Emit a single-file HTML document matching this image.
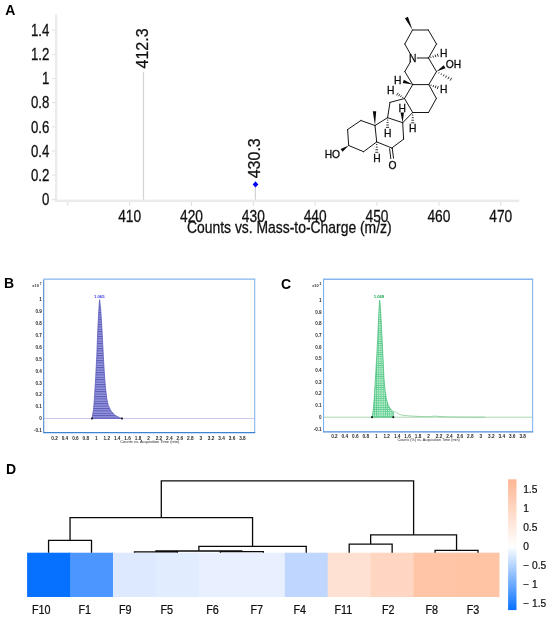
<!DOCTYPE html>
<html lang="en"><head><meta charset="utf-8"><title>Figure</title>
<style>html,body{margin:0;padding:0;background:#fff;}body{width:550px;height:620px;overflow:hidden;}svg{display:block;}</style>
</head><body>
<svg width="550" height="620" viewBox="0 0 550 620" font-family='"Liberation Sans", Arial, Helvetica, sans-serif'>
<rect x="0" y="0" width="550" height="620" fill="#ffffff"/>
<g id="panelA">
<text x="5.30" y="14.70" font-size="14" text-anchor="start" fill="#000" font-weight="bold">A</text>
<rect x="55.05" y="14.5" width="2.2" height="187.50" fill="#ebebeb"/>
<rect x="55.05" y="199.6" width="464.25" height="2.5" fill="#ebebeb"/>
<line x1="51.95" y1="199.40" x2="55.15" y2="199.40" stroke="#d8d8d8" stroke-width="0.8"/>
<text x="0" y="0" transform="translate(49.30 205.15) scale(0.8 1)" font-size="16.5" text-anchor="end" fill="#111" stroke="#111" stroke-width="0.3">0</text>
<line x1="51.95" y1="175.22" x2="55.15" y2="175.22" stroke="#d8d8d8" stroke-width="0.8"/>
<text x="0" y="0" transform="translate(49.30 180.97) scale(0.8 1)" font-size="16.5" text-anchor="end" fill="#111" stroke="#111" stroke-width="0.3">0.2</text>
<line x1="51.95" y1="151.04" x2="55.15" y2="151.04" stroke="#d8d8d8" stroke-width="0.8"/>
<text x="0" y="0" transform="translate(49.30 156.79) scale(0.8 1)" font-size="16.5" text-anchor="end" fill="#111" stroke="#111" stroke-width="0.3">0.4</text>
<line x1="51.95" y1="126.86" x2="55.15" y2="126.86" stroke="#d8d8d8" stroke-width="0.8"/>
<text x="0" y="0" transform="translate(49.30 132.61) scale(0.8 1)" font-size="16.5" text-anchor="end" fill="#111" stroke="#111" stroke-width="0.3">0.6</text>
<line x1="51.95" y1="102.68" x2="55.15" y2="102.68" stroke="#d8d8d8" stroke-width="0.8"/>
<text x="0" y="0" transform="translate(49.30 108.43) scale(0.8 1)" font-size="16.5" text-anchor="end" fill="#111" stroke="#111" stroke-width="0.3">0.8</text>
<line x1="51.95" y1="78.50" x2="55.15" y2="78.50" stroke="#d8d8d8" stroke-width="0.8"/>
<text x="0" y="0" transform="translate(49.30 84.25) scale(0.8 1)" font-size="16.5" text-anchor="end" fill="#111" stroke="#111" stroke-width="0.3">1</text>
<line x1="51.95" y1="54.32" x2="55.15" y2="54.32" stroke="#d8d8d8" stroke-width="0.8"/>
<text x="0" y="0" transform="translate(49.30 60.07) scale(0.8 1)" font-size="16.5" text-anchor="end" fill="#111" stroke="#111" stroke-width="0.3">1.2</text>
<line x1="51.95" y1="30.14" x2="55.15" y2="30.14" stroke="#d8d8d8" stroke-width="0.8"/>
<text x="0" y="0" transform="translate(49.30 35.89) scale(0.8 1)" font-size="16.5" text-anchor="end" fill="#111" stroke="#111" stroke-width="0.3">1.4</text>
<line x1="129.60" y1="202.00" x2="129.60" y2="205.50" stroke="#d0d0d0" stroke-width="0.8"/>
<text x="0" y="0" transform="translate(129.60 222.00) scale(0.79 1)" font-size="17.4" text-anchor="middle" fill="#111" stroke="#111" stroke-width="0.3">410</text>
<line x1="191.46" y1="202.00" x2="191.46" y2="205.50" stroke="#d0d0d0" stroke-width="0.8"/>
<text x="0" y="0" transform="translate(191.46 222.00) scale(0.79 1)" font-size="17.4" text-anchor="middle" fill="#111" stroke="#111" stroke-width="0.3">420</text>
<line x1="253.32" y1="202.00" x2="253.32" y2="205.50" stroke="#d0d0d0" stroke-width="0.8"/>
<text x="0" y="0" transform="translate(253.32 222.00) scale(0.79 1)" font-size="17.4" text-anchor="middle" fill="#111" stroke="#111" stroke-width="0.3">430</text>
<line x1="315.18" y1="202.00" x2="315.18" y2="205.50" stroke="#d0d0d0" stroke-width="0.8"/>
<text x="0" y="0" transform="translate(315.18 222.00) scale(0.79 1)" font-size="17.4" text-anchor="middle" fill="#111" stroke="#111" stroke-width="0.3">440</text>
<line x1="377.04" y1="202.00" x2="377.04" y2="205.50" stroke="#d0d0d0" stroke-width="0.8"/>
<text x="0" y="0" transform="translate(377.04 222.00) scale(0.79 1)" font-size="17.4" text-anchor="middle" fill="#111" stroke="#111" stroke-width="0.3">450</text>
<line x1="438.90" y1="202.00" x2="438.90" y2="205.50" stroke="#d0d0d0" stroke-width="0.8"/>
<text x="0" y="0" transform="translate(438.90 222.00) scale(0.79 1)" font-size="17.4" text-anchor="middle" fill="#111" stroke="#111" stroke-width="0.3">460</text>
<line x1="500.76" y1="202.00" x2="500.76" y2="205.50" stroke="#d0d0d0" stroke-width="0.8"/>
<text x="0" y="0" transform="translate(500.76 222.00) scale(0.79 1)" font-size="17.4" text-anchor="middle" fill="#111" stroke="#111" stroke-width="0.3">470</text>
<line x1="67.74" y1="202.00" x2="67.74" y2="205.50" stroke="#d0d0d0" stroke-width="0.8"/>
<text x="0" y="0" transform="translate(289.30 233.30) scale(0.838 1)" font-size="16.6" text-anchor="middle" fill="#111" stroke="#111" stroke-width="0.3">Counts vs. Mass-to-Charge (m/z)</text>
<line x1="143.50" y1="72.00" x2="143.50" y2="199.80" stroke="#d4d4d4" stroke-width="1.2"/>
<line x1="255.40" y1="186.00" x2="255.40" y2="199.80" stroke="#d4d4d4" stroke-width="1.2"/>
<text transform="translate(148.3 68.5) rotate(-90) scale(1 1.01)" font-size="16" fill="#111" stroke="#111" stroke-width="0.25">412.3</text>
<text transform="translate(259.5 178.3) rotate(-90) scale(1 1.01)" font-size="16" fill="#111" stroke="#111" stroke-width="0.25">430.3</text>
<path d="M255.5 181.3 L258.3 184.4 L255.5 187.5 L252.7 184.4 Z" fill="#0000ff"/>
</g>
<g id="molecule" stroke="#0a0a0a" stroke-width="0.95" stroke-linecap="round" fill="none">
<line x1="412.50" y1="30.00" x2="428.30" y2="30.00"/>
<line x1="428.30" y1="30.00" x2="436.50" y2="44.00"/>
<line x1="436.50" y1="44.00" x2="428.50" y2="58.00"/>
<line x1="404.80" y1="44.00" x2="412.50" y2="30.00"/>
<line x1="428.50" y1="58.00" x2="436.50" y2="71.60"/>
<line x1="436.50" y1="71.60" x2="428.80" y2="84.60"/>
<line x1="428.80" y1="84.60" x2="412.70" y2="84.60"/>
<line x1="412.70" y1="84.60" x2="404.80" y2="71.60"/>
<line x1="428.80" y1="84.60" x2="436.40" y2="98.40"/>
<line x1="436.40" y1="98.40" x2="428.50" y2="112.50"/>
<line x1="428.50" y1="112.50" x2="412.70" y2="112.50"/>
<line x1="412.70" y1="112.50" x2="404.50" y2="98.50"/>
<line x1="404.50" y1="98.50" x2="412.70" y2="84.60"/>
<line x1="404.50" y1="98.50" x2="390.00" y2="102.40"/>
<line x1="390.00" y1="102.40" x2="387.60" y2="117.70"/>
<line x1="387.60" y1="117.70" x2="402.70" y2="122.70"/>
<line x1="402.70" y1="122.70" x2="412.70" y2="112.50"/>
<line x1="402.70" y1="122.70" x2="403.60" y2="139.20"/>
<line x1="403.60" y1="139.20" x2="391.80" y2="148.00"/>
<line x1="391.80" y1="148.00" x2="376.70" y2="141.90"/>
<line x1="376.70" y1="141.90" x2="375.00" y2="125.50"/>
<line x1="375.00" y1="125.50" x2="387.60" y2="117.70"/>
<line x1="375.00" y1="125.50" x2="360.90" y2="120.50"/>
<line x1="360.90" y1="120.50" x2="347.60" y2="129.50"/>
<line x1="347.60" y1="129.50" x2="348.70" y2="145.50"/>
<line x1="348.70" y1="145.50" x2="363.60" y2="151.70"/>
<line x1="363.60" y1="151.70" x2="376.70" y2="141.90"/>
<line x1="428.50" y1="58.00" x2="417.20" y2="58.00"/>
<line x1="410.65" y1="54.51" x2="404.80" y2="44.00"/>
<line x1="410.61" y1="61.47" x2="404.80" y2="71.60"/>
<line x1="389.6" y1="148.8" x2="390.8" y2="158.6"/>
<line x1="392.3" y1="148.4" x2="393.5" y2="158.2"/>
</g>
<g id="stereo" fill="#0a0a0a" stroke="none">
<path d="M412.50 30.00 L407.93 16.66 L404.87 18.14 Z"/>
<path d="M436.50 71.60 L445.47 68.26 L443.73 65.34 Z"/>
<path d="M412.70 84.60 L403.85 79.79 L402.75 83.01 Z"/>
<path d="M402.70 122.70 L403.90 112.42 L400.50 112.58 Z"/>
<path d="M375.00 125.50 L376.20 111.14 L372.80 111.26 Z"/>
<path d="M348.70 145.50 L340.63 149.00 L342.57 151.80 Z"/>
<path d="M438.64 73.35 L439.16 72.38 M440.95 74.80 L441.65 73.47 M443.26 76.24 L444.14 74.56 M445.56 77.68 L446.64 75.65 M447.87 79.13 L449.13 76.74 M450.18 80.57 L451.62 77.83" stroke="#0a0a0a" stroke-width="0.85" fill="none"/>
<path d="M431.01 57.92 L430.64 56.68 M433.42 57.51 L432.88 55.69 M435.84 57.10 L435.11 54.70 M438.25 56.68 L437.35 53.72" stroke="#0a0a0a" stroke-width="0.85" fill="none"/>
<path d="M430.84 85.97 L431.26 84.73 M433.00 87.00 L433.60 85.20 M435.15 88.04 L435.95 85.66 M437.31 89.07 L438.29 86.13" stroke="#0a0a0a" stroke-width="0.85" fill="none"/>
<path d="M403.07 96.85 L402.38 97.95 M401.45 95.49 L400.45 97.11 M399.83 94.14 L398.52 96.26 M398.22 92.78 L396.58 95.42" stroke="#0a0a0a" stroke-width="0.85" fill="none"/>
<path d="M412.05 115.08 L413.35 115.08 M411.75 117.65 L413.65 117.65 M411.45 120.22 L413.95 120.22 M411.15 122.80 L414.25 122.80" stroke="#0a0a0a" stroke-width="0.85" fill="none"/>
<path d="M386.95 120.12 L388.25 120.12 M386.65 122.55 L388.55 122.55 M386.35 124.98 L388.85 124.98 M386.05 127.40 L389.15 127.40" stroke="#0a0a0a" stroke-width="0.85" fill="none"/>
<path d="M376.08 144.51 L377.37 144.49 M375.80 147.11 L377.70 147.09 M375.53 149.71 L378.02 149.69 M375.25 152.31 L378.35 152.29" stroke="#0a0a0a" stroke-width="0.85" fill="none"/>
</g>
<g id="atoms" font-size="10.3" fill="#0a0a0a" stroke="#0a0a0a" stroke-width="0.28" text-anchor="middle">
<text x="412.60" y="61.70">N</text>
<text x="453.60" y="67.80">OH</text>
<text x="443.60" y="57.40">H</text>
<text x="443.60" y="92.70">H</text>
<text x="397.60" y="84.20">H</text>
<text x="390.60" y="94.30">H</text>
<text x="402.20" y="111.80">H</text>
<text x="412.70" y="131.60">H</text>
<text x="387.60" y="136.90">H</text>
<text x="376.90" y="162.30">H</text>
<text x="392.50" y="168.50">O</text>
<text x="332.40" y="158.30">HO</text>
</g>
<defs>
<pattern id="hatchB" width="4" height="2.4" patternUnits="userSpaceOnUse"><rect width="4" height="2.4" fill="#9898de"/><rect y="0" width="4" height="1.0" fill="#5858b6"/></pattern>
<pattern id="hatchC" width="2.2" height="2.2" patternUnits="userSpaceOnUse"><rect width="2.2" height="2.2" fill="#b8eed0"/><rect width="2.2" height="0.7" fill="#5ccb8c"/><rect width="0.7" height="2.2" fill="#5ccb8c"/></pattern>
</defs>
<g id="panelB">
<text x="3.90" y="288.40" font-size="14" text-anchor="start" fill="#000" font-weight="bold">B</text>
<rect x="43.70" y="279.10" width="211.00" height="153.60" fill="#fff"/>
<line x1="44.20" y1="418.50" x2="254.20" y2="418.50" stroke="#c4b8f0" stroke-width="0.8"/>
<path d="M92.00 418.50 L92.60 415.00 L93.50 409.70 L94.40 398.90 L95.70 377.10 L96.80 355.30 L97.60 333.50 L98.70 311.80 L99.30 303.00 L99.60 299.70 L100.00 303.00 L100.90 311.80 L102.20 333.50 L103.30 355.30 L104.60 377.10 L105.50 388.00 L106.80 398.90 L108.30 405.40 L110.90 410.80 L114.80 415.20 L119.20 417.40 L122.00 418.50 Z" fill="url(#hatchB)" stroke="#5252b4" stroke-width="0.7" stroke-linejoin="round"/>
<line x1="43.20" y1="279.10" x2="255.20" y2="279.10" stroke="#86b6ee" stroke-width="1.4"/>
<line x1="254.70" y1="279.10" x2="254.70" y2="432.70" stroke="#86b6ee" stroke-width="1.1"/>
<line x1="43.70" y1="279.70" x2="43.70" y2="432.70" stroke="#4f86cc" stroke-width="1.1"/>
<line x1="43.20" y1="432.70" x2="255.20" y2="432.70" stroke="#3f82d2" stroke-width="1.25"/>
<text x="41.80" y="301.35" font-size="4.6" text-anchor="end" fill="#2a2a2a" font-weight="bold">1</text>
<text x="41.80" y="313.23" font-size="4.6" text-anchor="end" fill="#2a2a2a" font-weight="bold">0.9</text>
<text x="41.80" y="325.11" font-size="4.6" text-anchor="end" fill="#2a2a2a" font-weight="bold">0.8</text>
<text x="41.80" y="336.99" font-size="4.6" text-anchor="end" fill="#2a2a2a" font-weight="bold">0.7</text>
<text x="41.80" y="348.87" font-size="4.6" text-anchor="end" fill="#2a2a2a" font-weight="bold">0.6</text>
<text x="41.80" y="360.75" font-size="4.6" text-anchor="end" fill="#2a2a2a" font-weight="bold">0.5</text>
<text x="41.80" y="372.63" font-size="4.6" text-anchor="end" fill="#2a2a2a" font-weight="bold">0.4</text>
<text x="41.80" y="384.51" font-size="4.6" text-anchor="end" fill="#2a2a2a" font-weight="bold">0.3</text>
<text x="41.80" y="396.39" font-size="4.6" text-anchor="end" fill="#2a2a2a" font-weight="bold">0.2</text>
<text x="41.80" y="408.27" font-size="4.6" text-anchor="end" fill="#2a2a2a" font-weight="bold">0.1</text>
<text x="41.80" y="420.15" font-size="4.6" text-anchor="end" fill="#2a2a2a" font-weight="bold">0</text>
<text x="41.80" y="432.03" font-size="4.6" text-anchor="end" fill="#2a2a2a" font-weight="bold">-0.1</text>
<text x="41.50" y="286.50" font-size="3.9" text-anchor="end" fill="#2a2a2a" font-weight="bold">x10<tspan dy="-1.3" font-size="3.2"> 7</tspan></text>
<text x="54.54" y="439.50" font-size="4.7" text-anchor="middle" fill="#2a2a2a" font-weight="bold">0.2</text>
<text x="64.98" y="439.50" font-size="4.7" text-anchor="middle" fill="#2a2a2a" font-weight="bold">0.4</text>
<text x="75.42" y="439.50" font-size="4.7" text-anchor="middle" fill="#2a2a2a" font-weight="bold">0.6</text>
<text x="85.86" y="439.50" font-size="4.7" text-anchor="middle" fill="#2a2a2a" font-weight="bold">0.8</text>
<text x="96.30" y="439.50" font-size="4.7" text-anchor="middle" fill="#2a2a2a" font-weight="bold">1</text>
<text x="106.74" y="439.50" font-size="4.7" text-anchor="middle" fill="#2a2a2a" font-weight="bold">1.2</text>
<text x="117.18" y="439.50" font-size="4.7" text-anchor="middle" fill="#2a2a2a" font-weight="bold">1.4</text>
<text x="127.62" y="439.50" font-size="4.7" text-anchor="middle" fill="#2a2a2a" font-weight="bold">1.6</text>
<text x="138.06" y="439.50" font-size="4.7" text-anchor="middle" fill="#2a2a2a" font-weight="bold">1.8</text>
<text x="148.50" y="439.50" font-size="4.7" text-anchor="middle" fill="#2a2a2a" font-weight="bold">2</text>
<text x="158.94" y="439.50" font-size="4.7" text-anchor="middle" fill="#2a2a2a" font-weight="bold">2.2</text>
<text x="169.38" y="439.50" font-size="4.7" text-anchor="middle" fill="#2a2a2a" font-weight="bold">2.4</text>
<text x="179.82" y="439.50" font-size="4.7" text-anchor="middle" fill="#2a2a2a" font-weight="bold">2.6</text>
<text x="190.26" y="439.50" font-size="4.7" text-anchor="middle" fill="#2a2a2a" font-weight="bold">2.8</text>
<text x="200.70" y="439.50" font-size="4.7" text-anchor="middle" fill="#2a2a2a" font-weight="bold">3</text>
<text x="211.14" y="439.50" font-size="4.7" text-anchor="middle" fill="#2a2a2a" font-weight="bold">3.2</text>
<text x="221.58" y="439.50" font-size="4.7" text-anchor="middle" fill="#2a2a2a" font-weight="bold">3.4</text>
<text x="232.02" y="439.50" font-size="4.7" text-anchor="middle" fill="#2a2a2a" font-weight="bold">3.6</text>
<text x="242.46" y="439.50" font-size="4.7" text-anchor="middle" fill="#2a2a2a" font-weight="bold">3.8</text>
<text x="149.70" y="443.10" font-size="4.0" text-anchor="middle" fill="#2a2a2a">Counts vs. Acquisition Time (min)</text>
<rect x="91.10" y="417.60" width="1.8" height="1.8" fill="#111"/>
<rect x="121.10" y="417.60" width="1.8" height="1.8" fill="#111"/>
<text x="99.30" y="297.70" font-size="4.2" text-anchor="middle" fill="#3535e0" font-weight="bold">1.065</text>
</g>
<g id="panelC">
<text x="281.00" y="289.40" font-size="14" text-anchor="start" fill="#000" font-weight="bold">C</text>
<rect x="323.55" y="279.20" width="209.10" height="152.60" fill="#fff"/>
<line x1="324.05" y1="417.20" x2="532.15" y2="417.20" stroke="#96d0a0" stroke-width="0.8"/>
<path d="M372.00 417.20 L372.60 414.00 L373.30 409.70 L374.20 398.90 L375.50 377.10 L376.80 355.30 L377.90 333.50 L378.90 311.80 L379.40 303.00 L379.60 300.20 L380.00 303.00 L380.70 311.80 L381.80 333.50 L382.90 355.30 L383.90 377.10 L384.80 388.00 L386.30 398.90 L388.30 405.40 L390.90 409.70 L393.30 411.90 L393.30 417.20 Z" fill="url(#hatchC)" stroke="#3cb870" stroke-width="0.7" stroke-linejoin="round"/>
<path d="M393.30 411.90 L394.60 411.50 L396.50 412.60 L399.50 414.60 L404.00 415.40 L409.00 415.90 L414.00 416.20 L422.00 416.60 L428.00 416.70 L434.50 416.10 L440.00 416.50 L448.00 416.90 L460.00 417.10 L485.00 417.20" fill="none" stroke="#86cc96" stroke-width="0.8"/>
<line x1="323.05" y1="279.20" x2="533.15" y2="279.20" stroke="#86b6ee" stroke-width="1.4"/>
<line x1="532.65" y1="279.20" x2="532.65" y2="431.80" stroke="#86b6ee" stroke-width="1.1"/>
<line x1="323.55" y1="279.80" x2="323.55" y2="431.80" stroke="#7fb2ec" stroke-width="1.1"/>
<line x1="323.05" y1="431.80" x2="533.15" y2="431.80" stroke="#4a8edc" stroke-width="1.25"/>
<text x="321.65" y="301.85" font-size="4.6" text-anchor="end" fill="#2a2a2a" font-weight="bold">1</text>
<text x="321.65" y="313.55" font-size="4.6" text-anchor="end" fill="#2a2a2a" font-weight="bold">0.9</text>
<text x="321.65" y="325.25" font-size="4.6" text-anchor="end" fill="#2a2a2a" font-weight="bold">0.8</text>
<text x="321.65" y="336.95" font-size="4.6" text-anchor="end" fill="#2a2a2a" font-weight="bold">0.7</text>
<text x="321.65" y="348.65" font-size="4.6" text-anchor="end" fill="#2a2a2a" font-weight="bold">0.6</text>
<text x="321.65" y="360.35" font-size="4.6" text-anchor="end" fill="#2a2a2a" font-weight="bold">0.5</text>
<text x="321.65" y="372.05" font-size="4.6" text-anchor="end" fill="#2a2a2a" font-weight="bold">0.4</text>
<text x="321.65" y="383.75" font-size="4.6" text-anchor="end" fill="#2a2a2a" font-weight="bold">0.3</text>
<text x="321.65" y="395.45" font-size="4.6" text-anchor="end" fill="#2a2a2a" font-weight="bold">0.2</text>
<text x="321.65" y="407.15" font-size="4.6" text-anchor="end" fill="#2a2a2a" font-weight="bold">0.1</text>
<text x="321.65" y="418.85" font-size="4.6" text-anchor="end" fill="#2a2a2a" font-weight="bold">0</text>
<text x="321.65" y="430.55" font-size="4.6" text-anchor="end" fill="#2a2a2a" font-weight="bold">-0.1</text>
<text x="321.35" y="286.60" font-size="3.9" text-anchor="end" fill="#2a2a2a" font-weight="bold">x10<tspan dy="-1.3" font-size="3.2"> 2</tspan></text>
<text x="334.41" y="437.80" font-size="4.7" text-anchor="middle" fill="#2a2a2a" font-weight="bold">0.2</text>
<text x="344.87" y="437.80" font-size="4.7" text-anchor="middle" fill="#2a2a2a" font-weight="bold">0.4</text>
<text x="355.33" y="437.80" font-size="4.7" text-anchor="middle" fill="#2a2a2a" font-weight="bold">0.6</text>
<text x="365.79" y="437.80" font-size="4.7" text-anchor="middle" fill="#2a2a2a" font-weight="bold">0.8</text>
<text x="376.25" y="437.80" font-size="4.7" text-anchor="middle" fill="#2a2a2a" font-weight="bold">1</text>
<text x="386.71" y="437.80" font-size="4.7" text-anchor="middle" fill="#2a2a2a" font-weight="bold">1.2</text>
<text x="397.17" y="437.80" font-size="4.7" text-anchor="middle" fill="#2a2a2a" font-weight="bold">1.4</text>
<text x="407.63" y="437.80" font-size="4.7" text-anchor="middle" fill="#2a2a2a" font-weight="bold">1.6</text>
<text x="418.09" y="437.80" font-size="4.7" text-anchor="middle" fill="#2a2a2a" font-weight="bold">1.8</text>
<text x="428.55" y="437.80" font-size="4.7" text-anchor="middle" fill="#2a2a2a" font-weight="bold">2</text>
<text x="439.01" y="437.80" font-size="4.7" text-anchor="middle" fill="#2a2a2a" font-weight="bold">2.2</text>
<text x="449.47" y="437.80" font-size="4.7" text-anchor="middle" fill="#2a2a2a" font-weight="bold">2.4</text>
<text x="459.93" y="437.80" font-size="4.7" text-anchor="middle" fill="#2a2a2a" font-weight="bold">2.6</text>
<text x="470.39" y="437.80" font-size="4.7" text-anchor="middle" fill="#2a2a2a" font-weight="bold">2.8</text>
<text x="480.85" y="437.80" font-size="4.7" text-anchor="middle" fill="#2a2a2a" font-weight="bold">3</text>
<text x="491.31" y="437.80" font-size="4.7" text-anchor="middle" fill="#2a2a2a" font-weight="bold">3.2</text>
<text x="501.77" y="437.80" font-size="4.7" text-anchor="middle" fill="#2a2a2a" font-weight="bold">3.4</text>
<text x="512.23" y="437.80" font-size="4.7" text-anchor="middle" fill="#2a2a2a" font-weight="bold">3.6</text>
<text x="522.69" y="437.80" font-size="4.7" text-anchor="middle" fill="#2a2a2a" font-weight="bold">3.8</text>
<text x="428.60" y="440.80" font-size="3.75" text-anchor="middle" fill="#2a2a2a">Counts (%) vs. Acquisition Time (min)</text>
<rect x="371.10" y="416.30" width="1.8" height="1.8" fill="#111"/>
<rect x="392.40" y="416.30" width="1.8" height="1.8" fill="#111"/>
<text x="378.90" y="298.20" font-size="4.2" text-anchor="middle" fill="#12a045" font-weight="bold">1.069</text>
</g>
<g id="panelD">
<text x="6.00" y="473.80" font-size="14" text-anchor="start" fill="#000" font-weight="bold">D</text>
<rect x="27.10" y="552.70" width="43.95" height="44.30" fill="#0670ff"/>
<text x="0" y="0" transform="translate(41.20 613.50) scale(0.9 1)" font-size="12" text-anchor="middle" fill="#111" stroke="#111" stroke-width="0.25">F10</text>
<rect x="70.05" y="552.70" width="43.95" height="44.30" fill="#4c97ff"/>
<text x="0" y="0" transform="translate(84.80 613.50) scale(0.9 1)" font-size="12" text-anchor="middle" fill="#111" stroke="#111" stroke-width="0.25">F1</text>
<rect x="112.99" y="552.70" width="43.95" height="44.30" fill="#dce9ff"/>
<text x="0" y="0" transform="translate(125.20 613.50) scale(0.9 1)" font-size="12" text-anchor="middle" fill="#111" stroke="#111" stroke-width="0.25">F9</text>
<rect x="155.94" y="552.70" width="43.95" height="44.30" fill="#e1ecff"/>
<text x="0" y="0" transform="translate(166.70 613.50) scale(0.9 1)" font-size="12" text-anchor="middle" fill="#111" stroke="#111" stroke-width="0.25">F5</text>
<rect x="198.88" y="552.70" width="43.95" height="44.30" fill="#e8f0ff"/>
<text x="0" y="0" transform="translate(212.50 613.50) scale(0.9 1)" font-size="12" text-anchor="middle" fill="#111" stroke="#111" stroke-width="0.25">F6</text>
<rect x="241.83" y="552.70" width="43.95" height="44.30" fill="#e8f0ff"/>
<text x="0" y="0" transform="translate(256.80 613.50) scale(0.9 1)" font-size="12" text-anchor="middle" fill="#111" stroke="#111" stroke-width="0.25">F7</text>
<rect x="284.77" y="552.70" width="43.95" height="44.30" fill="#bfd7ff"/>
<text x="0" y="0" transform="translate(299.80 613.50) scale(0.9 1)" font-size="12" text-anchor="middle" fill="#111" stroke="#111" stroke-width="0.25">F4</text>
<rect x="327.72" y="552.70" width="43.95" height="44.30" fill="#ffe1d3"/>
<text x="0" y="0" transform="translate(343.30 613.50) scale(0.9 1)" font-size="12" text-anchor="middle" fill="#111" stroke="#111" stroke-width="0.25">F11</text>
<rect x="370.66" y="552.70" width="43.95" height="44.30" fill="#ffd6c2"/>
<text x="0" y="0" transform="translate(388.30 613.50) scale(0.9 1)" font-size="12" text-anchor="middle" fill="#111" stroke="#111" stroke-width="0.25">F2</text>
<rect x="413.61" y="552.70" width="43.95" height="44.30" fill="#ffc5a6"/>
<text x="0" y="0" transform="translate(431.80 613.50) scale(0.9 1)" font-size="12" text-anchor="middle" fill="#111" stroke="#111" stroke-width="0.25">F8</text>
<rect x="456.55" y="552.70" width="42.95" height="44.30" fill="#ffc4a3"/>
<text x="0" y="0" transform="translate(473.00 613.50) scale(0.9 1)" font-size="12" text-anchor="middle" fill="#111" stroke="#111" stroke-width="0.25">F3</text>
<path d="M48.57 552.70 V540.30 H91.52 V552.70 M134.46 552.70 V551.90 H177.41 V552.70 M220.35 552.70 V551.60 H263.30 V552.70 M155.94 551.90 V551.00 H241.83 V551.60 M198.88 551.00 V546.30 H306.25 V552.70 M70.05 540.30 V517.60 H252.56 V546.30 M349.19 552.70 V544.20 H392.14 V552.70 M435.08 552.70 V550.40 H478.03 V552.70 M370.66 544.20 V534.80 H456.55 V550.40 M161.30 517.60 V480.80 H413.61 V534.80" fill="none" stroke="#0a0a0a" stroke-width="1.3" stroke-linejoin="miter"/>
<defs><linearGradient id="cb" x1="0" y1="0" x2="0" y2="1"><stop offset="0" stop-color="#ffb692"/><stop offset="0.513" stop-color="#ffffff"/><stop offset="1" stop-color="#0670ff"/></linearGradient></defs>
<rect x="508.1" y="479.3" width="8.4" height="130.8" fill="url(#cb)"/>
<text x="523.20" y="492.50" font-size="10.2" text-anchor="start" fill="#111" stroke="#111" stroke-width="0.22">1.5</text>
<text x="523.20" y="511.52" font-size="10.2" text-anchor="start" fill="#111" stroke="#111" stroke-width="0.22">1</text>
<text x="523.20" y="530.54" font-size="10.2" text-anchor="start" fill="#111" stroke="#111" stroke-width="0.22">0.5</text>
<text x="523.20" y="549.56" font-size="10.2" text-anchor="start" fill="#111" stroke="#111" stroke-width="0.22">0</text>
<text x="523.20" y="568.58" font-size="10.2" text-anchor="start" fill="#111" stroke="#111" stroke-width="0.22">− 0.5</text>
<text x="523.20" y="587.60" font-size="10.2" text-anchor="start" fill="#111" stroke="#111" stroke-width="0.22">− 1</text>
<text x="523.20" y="606.62" font-size="10.2" text-anchor="start" fill="#111" stroke="#111" stroke-width="0.22">− 1.5</text>
</g>
</svg></body></html>
